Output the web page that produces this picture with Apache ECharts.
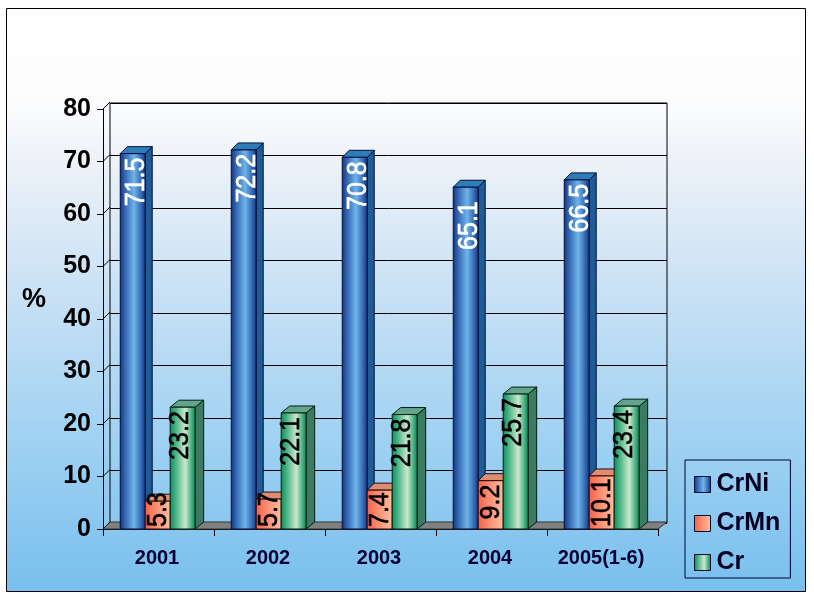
<!DOCTYPE html>
<html><head><meta charset="utf-8">
<style>html,body{margin:0;padding:0;background:#fff}#c{width:814px;height:599px}</style>
<script src="https://cdn.jsdelivr.net/npm/echarts@6/dist/echarts.min.js"></script>
</head><body><div id="c"></div>
<script>
const categories = ['2001','2002','2003','2004','2005(1-6)'];
const crNi  = [71.5,72.2,70.8,65.1,66.5];
const crMn  = [5.3,5.7,7.4,9.2,10.1];
const cr    = [23.2,22.1,21.8,25.7,23.4];
const yTicks = [0,10,20,30,40,50,60,70,80];

const G = echarts.graphic;
const hGrad = stops => new G.LinearGradient(0,0,1,0,stops.map(s=>({offset:s[0],color:s[1]})));
const DY = -7;
const FONT = 'Liberation Sans, Arial, sans-serif';
const styles = {
  CrNi:{front:[[0,'#14306f'],[0.15,'#2a5aa8'],[0.55,'#6fb4ea'],[0.85,'#2f62ae'],[1,'#14306f']],side:'#1f5b94',top:'#2f7db8',line:'#001040',text:'#ffffff',nudge:4.3,slot:-1,dx:7,drop:{3:10}},
  CrMn:{front:[[0,'#f4604a'],[0.5,'#fb9478'],[1,'#ffc0a0']],side:'#b8583c',top:'#dd8e72',line:'#300808',text:'#000000',nudge:0.5,slot:0,dx:7,drop:{}},
  Cr:{front:[[0,'#0a8c58'],[0.2,'#3fae80'],[0.6,'#cce8cc'],[0.85,'#40ae80'],[1,'#0a7c50']],side:'#3c7a62',top:'#62a48c',line:'#002010',text:'#000000',nudge:-2,slot:1,dx:8.5,drop:{}}
};

function barSeries(name, values){
  const s = styles[name];
  return {
    type:'custom', name, xAxisIndex:0, yAxisIndex:0, clip:false, z:5,
    itemStyle:{color:hGrad(s.front)},
    encode:{x:0,y:1},
    data:values.map((v,i)=>[i,v]),
    renderItem(params,api){
      const v = api.value(1);
      const band = api.size([1,0])[0];
      const w = band*0.225;
      const p = api.coord([api.value(0),v]);
      const b = api.coord([api.value(0),0]);
      const cx = p[0] - 0.8 + s.slot*w;
      const l = cx-w/2, r = cx+w/2, t = p[1], bot = b[1];
      const txt = v.toFixed(1);
      const len = (txt.length-1)*0.556*25 + 0.278*25;
      const top = Math.min(t+4+(s.drop[params.dataIndex]||0), bot-len-2);
      const st = {stroke:s.line,lineWidth:1};
      return {type:'group',children:[
        {type:'polygon',shape:{points:[[r,t],[r+s.dx,t+DY],[r+s.dx,bot+DY],[r,bot]]},style:{fill:s.side,...st}},
        {type:'polygon',shape:{points:[[l,t],[l+s.dx,t+DY],[r+s.dx,t+DY],[r,t]]},style:{fill:s.top,...st}},
        {type:'rect',shape:{x:l,y:t,width:w,height:bot-t},style:{fill:hGrad(s.front),...st}},
        {type:'text',x:cx+s.nudge,y:top+len/2,rotation:Math.PI/2,scaleY:1.08,
         style:{text:txt,x:0,y:0,align:'center',verticalAlign:'middle',fill:s.text,stroke:s.text,lineWidth:0.6,font:'25px '+FONT}}
      ]};
    }
  };
}

const floorSeries = {
  type:'custom', xAxisIndex:0, yAxisIndex:0, clip:false, z:3, silent:true,
  data:yTicks.map(v=>[0,v]),
  renderItem(params,api){
    const v = api.value(1);
    const band = api.size([1,0])[0];
    const c = api.coord([0,v]);
    const x0 = c[0]-band/2, y0 = c[1];
    const kids = [{type:'line',shape:{x1:x0,y1:y0,x2:x0+7,y2:y0+DY},style:{stroke:'#000',lineWidth:1}}];
    if(v===0){
      const e = x0+band*categories.length;
      kids.unshift({type:'polygon',shape:{points:[[x0,y0],[x0+7,y0+DY],[e+9,y0+DY],[e,y0]]},style:{fill:'#808080',stroke:'#333',lineWidth:1}});
    }
    return {type:'group',children:kids};
  }
};

const chart = echarts.init(document.getElementById('c'),null,{renderer:'canvas'});
chart.setOption({
  animation:false,
  graphic:[
    {type:'rect',z:-10,shape:{x:6.5,y:8.5,width:799,height:583},
     style:{fill:new G.LinearGradient(0,0,0,1,[{offset:0,color:'#ffffff'},{offset:0.15,color:'#fdfdfe'},{offset:0.25,color:'#eff3f8'},{offset:0.5,color:'#c6e0f4'},{offset:0.75,color:'#9ed1f2'},{offset:1,color:'#78bfee'}]),stroke:'#000',lineWidth:1}},
    {type:'text',z:10,x:22,y:286,style:{text:'%',font:'bold 27px '+FONT,fill:'#000'}}
  ],
  legend:{
    left:685,top:460,orient:'vertical',padding:[12,10,3,9],itemGap:14,itemWidth:16,itemHeight:16,icon:'rect',
    borderColor:'#000033',borderWidth:1,backgroundColor:'transparent',
    textStyle:{fontFamily:FONT,fontSize:25,fontWeight:'bold',color:'#000022',padding:[0,0,0,1]},
    data:Object.keys(styles).map(n=>({name:n,itemStyle:{color:hGrad(styles[n].front),borderColor:'#001030',borderWidth:1}}))
  },
  grid:[
    {left:103,right:156,top:109,bottom:70,z:4},
    {left:110,right:147,top:103,bottom:76,show:true,borderColor:'#000',borderWidth:1,backgroundColor:'transparent'}
  ],
  xAxis:[
    {type:'category',gridIndex:0,data:categories,boundaryGap:true,
     axisLine:{show:true,lineStyle:{color:'#000'}},
     axisTick:{show:true,length:7,alignWithLabel:false,lineStyle:{color:'#000'}},
     axisLabel:{interval:0,margin:19,padding:[0,3,0,0],color:'#000033',fontFamily:FONT,fontSize:20,fontWeight:'bold'}},
    {type:'category',gridIndex:1,data:categories,show:false}
  ],
  yAxis:[
    {type:'value',gridIndex:0,min:0,max:80,interval:10,
     axisLine:{show:true,lineStyle:{color:'#000'}},
     axisTick:{show:true,length:6,lineStyle:{color:'#000'}},splitLine:{show:false},
     axisLabel:{margin:12,padding:[2,0,0,0],color:'#000',fontFamily:FONT,fontSize:25,fontWeight:'bold'}},
    {type:'value',gridIndex:1,min:0,max:80,interval:10,
     axisLine:{show:false},axisTick:{show:false},axisLabel:{show:false},
     splitLine:{show:true,lineStyle:{color:'#000',width:1}}}
  ],
  series:[floorSeries,barSeries('CrNi',crNi),barSeries('CrMn',crMn),barSeries('Cr',cr)]
});
</script></body></html>
